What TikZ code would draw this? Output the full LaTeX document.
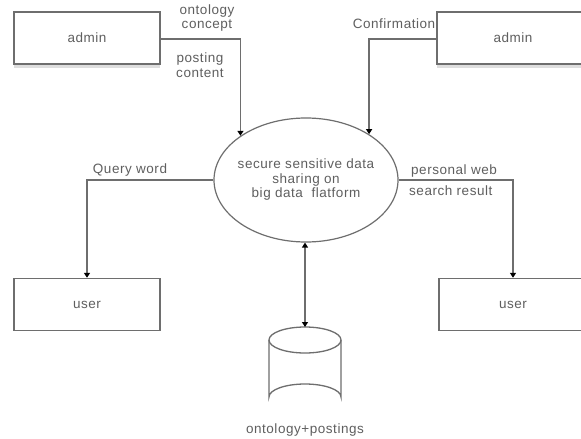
\documentclass[tikz,border=0pt]{standalone}
\usepackage{fontspec}
\setmainfont{Liberation Sans}[LetterSpace=4]
\usetikzlibrary{shapes.geometric,arrows.meta,shadows}
\definecolor{lin}{RGB}{110,110,110}
\definecolor{txt}{RGB}{95,95,95}
\definecolor{shd}{RGB}{222,222,222}
\tikzset{
  box/.style={draw=lin,line width=1.4pt,fill=white,minimum width=146pt,minimum height=52pt,inner sep=0pt,text=txt},
  shbox/.style={box,drop shadow={shadow xshift=0pt,shadow yshift=-4pt,fill=shd,opacity=1}},
  proc/.style={ellipse,draw=lin,line width=1.2pt,minimum width=184pt,minimum height=124pt,inner sep=0pt},
  lab/.style={text=txt,inner sep=0pt,align=center},
  flow/.style={draw=lin,line width=1.4pt,-{Triangle[width=6pt,length=5pt,color=black]}},
  every node/.style={font=\fontsize{13.5}{14.5}\selectfont}
}
\begin{document}
\begin{tikzpicture}[x=1pt,y=-1pt]
\useasboundingbox (0,0) rectangle (581,439);
\fill[white] (0,0) rectangle (581,439);
% boxes
\node[shbox] (adminL) at (87,38) {admin};
\node[shbox,minimum width=152pt] (adminR) at (513,38) {admin};
\node[box] (userL) at (87,304.5) {user};
\node[box,minimum width=148pt] (userR) at (513,304.5) {user};
% process
\node[proc] (ell) at (306,180) {};
\node[lab] (elltext) at (ell.center) {secure sensitive data\\sharing on\\big data\ \ flatform};
% data store
\coordinate (dbtop) at (305,327);
\draw[lin,line width=1.3pt,fill=white] (269,340) -- (269,397) arc[start angle=180,end angle=360,x radius=36,y radius=13] -- (341,340);
\draw[lin,line width=1.3pt] (305,340) ellipse[x radius=36,y radius=13];
\node[lab] (dblab) at (305,430) {ontology+postings};
% flows
\draw[flow] (adminL.east |- 0,39) -| (ell.146);
\draw[flow] (adminR.west |- 0,39) -| (ell.36);
\draw[flow] (ell.west) -| (userL.north);
\draw[flow] (ell.east) -| (userR.north);
\draw[flow,{Triangle[width=6pt,length=5pt,color=black]}-{Triangle[width=6pt,length=5pt,color=black]}] (ell.south -| dbtop) -- (dbtop);
% labels
\node[lab] (l1) at (207,18) {ontology\\concept};
\node[lab] (l2) at (200,65) {posting\\content};
\node[lab] (l3) at (394,24) {Confirmation};
\node[lab] (l4) at (130,170) {Query word};
\node[lab,anchor=west] (l5) at (411,171) {personal web};
\node[lab,anchor=west] (l6) at (409,191) {search result};
\end{tikzpicture}
\end{document}
